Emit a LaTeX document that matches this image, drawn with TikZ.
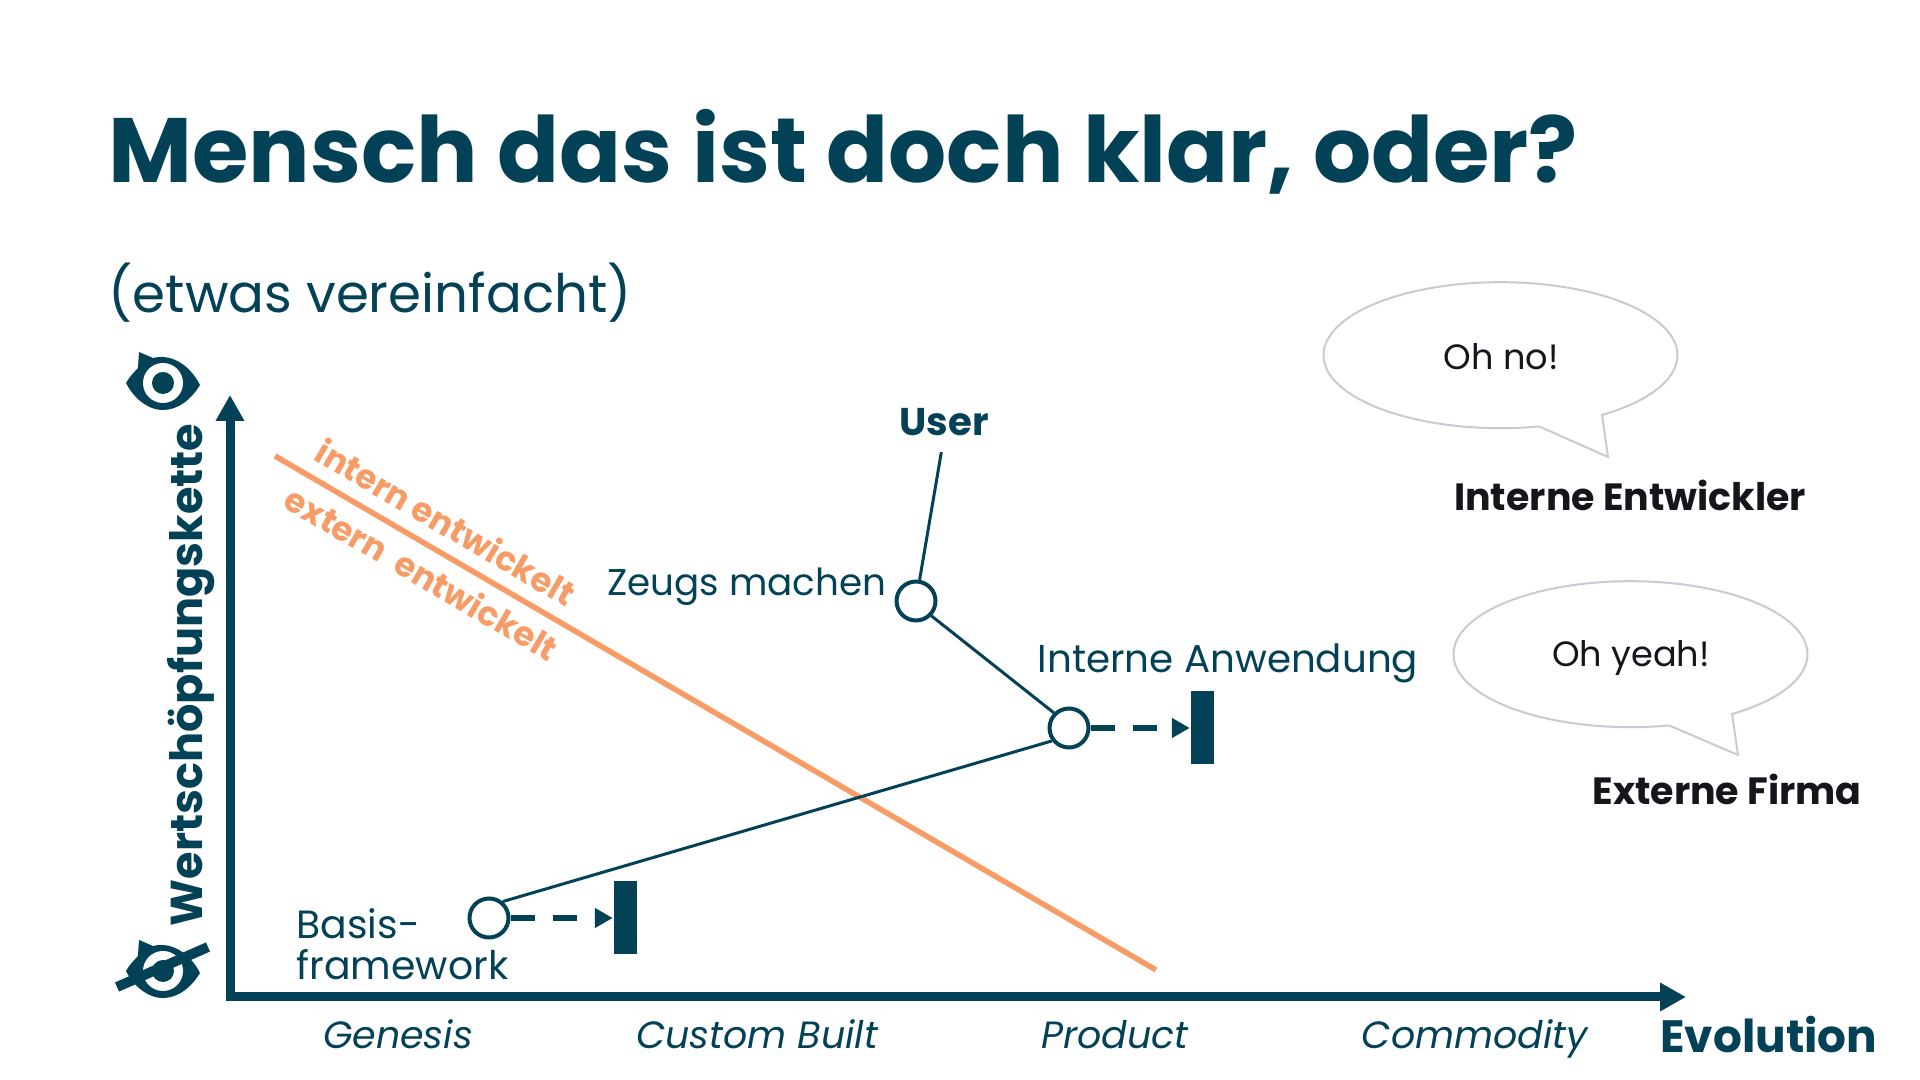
\documentclass[tikz,border=0pt]{standalone}
\usepackage{fontspec}
\setmainfont{Poppins}
\usepackage{tikz}
\usetikzlibrary{arrows.meta,positioning,calc}

\definecolor{tealdark}{HTML}{034157}
\definecolor{orangesoft}{HTML}{F79C66}
\definecolor{bubblegrey}{HTML}{C9CAD3}
\definecolor{inkblack}{HTML}{14161B}

\tikzset{
  txt/.style={text=tealdark, inner sep=0pt, font=\fontsize{10.8}{13.2}\selectfont},
  axislabel/.style={txt, anchor=base, font=\fontsize{10.8}{13}\selectfont\itshape},
  boldlabel/.style={txt, font=\fontsize{11}{13}\selectfont\bfseries},
  orangelabel/.style={inner sep=0pt, text=orangesoft, rotate=-30.3, font=\fontsize{9.6}{11}\selectfont\bfseries},
  comp/.style={circle, draw=tealdark, fill=white, line width=0.04cm, minimum size=0.39cm, inner sep=0pt},
  inertia/.style={rectangle, fill=tealdark, minimum width=0.23cm, minimum height=0.73cm, inner sep=0pt},
  link/.style={draw=tealdark, line width=0.03cm},
  pipe/.style={draw=tealdark, line width=0.06cm, dash pattern=on 0.24cm off 0.18cm, -{Triangle[length=0.18cm,width=0.19cm]}},
  bubble/.style={draw=bubblegrey, line width=0.02cm, fill=white},
  saying/.style={inner sep=0pt, text=inkblack, font=\fontsize{10}{12}\selectfont},
  speaker/.style={inner sep=0pt, text=inkblack, font=\fontsize{10.8}{13}\selectfont\bfseries},
  eyeicon/.pic={
    \fill[tealdark] (-0.37,0) .. controls (-0.30,0.12) and (-0.24,0.14) .. (-0.25,0.16)
      -- (-0.24,0.31) -- (-0.10,0.25) .. controls (0.10,0.30) and (0.28,0.16) .. (0.37,-0.02)
      .. controls (0.26,-0.20) and (0.12,-0.27) .. (0,-0.27) .. controls (-0.16,-0.27) and (-0.30,-0.14) .. cycle;
    \fill[white] (0,0) circle (0.20);
    \fill[tealdark] (0,0) circle (0.11);
  }
}

\begin{document}
\begin{tikzpicture}
\useasboundingbox (0,0) rectangle (19.2,10.8);

% title
\node[txt, anchor=base west, font=\fontsize{26}{30}\selectfont\bfseries] (title) at (1.08,8.97) {Mensch das ist doch klar, oder?};
\node[txt, anchor=base west, font=\fontsize{15.1}{18}\selectfont] (subtitle) at (1.08,7.67) {(etwas vereinfacht)};

% axes
\coordinate (ytop) at (2.30,6.85);
\coordinate (origin) at (2.30,0.83);
\coordinate (xend) at (16.86,0.83);
\draw[tealdark, line width=0.09cm, {Triangle[length=0.26cm,width=0.27cm]}-{Triangle[length=0.26cm,width=0.27cm]}] (ytop) -- (origin) -- (xend);

\node[boldlabel, rotate=90, font=\fontsize{12.7}{15}\selectfont\bfseries] (chain) at (1.91,4.05) {Wertschöpfungskette};
\node[boldlabel, anchor=base east, font=\fontsize{12.9}{15}\selectfont\bfseries] (evolution) at (18.78,0.27) {Evolution};

\node[axislabel] (genesis) at (3.98,0.31) {Genesis};
\node[axislabel] (custom) at (7.57,0.31) {Custom Built};
\node[axislabel] (product) at (11.15,0.31) {Product};
\node[axislabel] (commodity) at (14.75,0.31) {Commodity};

% eyes
\pic at (1.63,6.97) {eyeicon};
\pic at (1.63,1.09) {eyeicon};
\coordinate (strikea) at (1.17,0.93);
\coordinate (strikeb) at (2.08,1.33);
\draw[tealdark, line width=0.10cm] (strikea) -- (strikeb);

% boundary
\coordinate (linea) at (2.75,6.24);
\coordinate (lineb) at (11.56,1.10);
\draw[orangesoft, line width=0.055cm] (linea) -- (lineb);
\node[orangelabel] (intern) at (4.46,5.58) {intern entwickelt};
\node[orangelabel] (extern) at (4.22,5.07) {extern\ \ entwickelt};

% components
\node[comp] (zeugs) at (9.16,4.79) {};
\node[comp] (anwendung) at (10.69,3.52) {};
\node[comp] (basis) at (4.89,1.62) {};
\node[boldlabel] (user) at (9.44,6.58) {User};

\node[txt, anchor=east, font=\fontsize{10.6}{13}\selectfont] (zeugslabel) at (8.87,4.93) {Zeugs machen};
\node[txt, anchor=west, font=\fontsize{11.05}{13}\selectfont] (anwendunglabel) at (10.37,4.17) {Interne Anwendung};
\node[txt, anchor=north west, align=left, font=\fontsize{11.2}{11.6}\selectfont] (basislabel) at (2.96,1.72) {Basis-\\framework};

\draw[link, shorten <=0.16cm] (user.south) -- (zeugs);
\draw[link] (zeugs.-44) -- (anwendung.135);
\draw[link] (basis.50) -- (anwendung.217);

% inertia bars
\node[inertia] (bara) at (12.02,3.52) {};
\node[inertia] (barb) at (6.25,1.62) {};
\draw[pipe] (anwendung) -- (bara);
\draw[pipe] (basis) -- (barb);

% speech bubbles
\draw[bubble] (16.02,6.65) arc[start angle=-55, end angle=282.6, x radius=1.77, y radius=0.73] -- (16.08,6.23) -- cycle;
\node[saying] (ohno) at (15.01,7.23) {Oh no!};
\node[speaker] (internedev) at (16.30,5.85) {Interne Entwickler};

\draw[bubble] (17.32,3.66) arc[start angle=-55, end angle=282.6, x radius=1.77, y radius=0.73] -- (17.38,3.25) -- cycle;
\node[saying] (ohyeah) at (16.31,4.22) {Oh yeah!};
\node[speaker] (externefirma) at (17.27,2.91) {Externe Firma};

\end{tikzpicture}
\end{document}
